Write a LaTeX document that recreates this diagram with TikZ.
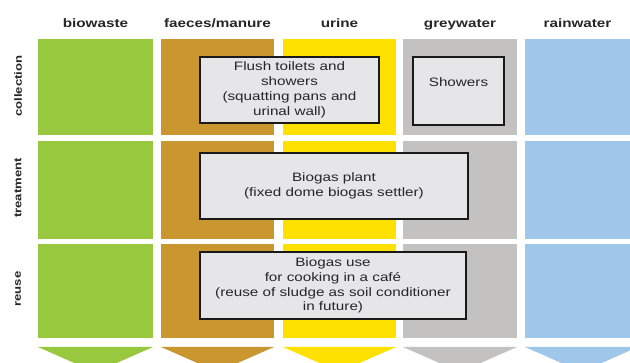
\documentclass[tikz,border=0pt]{standalone}
\usepackage{fontspec}
\setmainfont{Liberation Sans}[FakeStretch=1.25]
\definecolor{cgreen}{HTML}{97C83D}
\definecolor{cbrown}{HTML}{C9962F}
\definecolor{cyellow}{HTML}{FFE100}
\definecolor{cgrey}{HTML}{C3C2C0}
\definecolor{cblue}{HTML}{9EC7EA}
\definecolor{boxfill}{HTML}{E6E6E8}
\definecolor{txtcol}{HTML}{262626}
\tikzset{
  box/.style={draw=black!90, line width=1.4pt, fill=boxfill, align=center, inner sep=0pt,
    text=txtcol, font=\fontsize{12.2}{14.8}\selectfont},
  head/.style={anchor=base, text=txtcol, font=\fontsize{12.2}{14}\selectfont\bfseries, inner sep=0pt},
  rowlab/.style={rotate=90, text=txtcol, font=\fontsize{10.5}{12}\selectfont\bfseries, inner sep=0pt},
  boxtext/.style={text=txtcol, font=\fontsize{12.2}{14.8}\selectfont, inner sep=0pt}
}
\begin{document}
\begin{tikzpicture}[x=1pt,y=-1pt]
\useasboundingbox (0,0) rectangle (630,363);
\clip (0,0) rectangle (630,363);
\fill[white] (0,0) rectangle (630,363);
\foreach \xa/\xb/\c in {38/153/cgreen, 161/274/cbrown, 283/396/cyellow, 403/517/cgrey, 525/638/cblue} {
  \fill[\c] (\xa,39) rectangle (\xb,135);
  \fill[\c] (\xa,141) rectangle (\xb,239);
  \fill[\c] (\xa,244) rectangle (\xb,338);
  \fill[\c] (\xa,347) -- (\xb,347) -- ({(\xa+\xb)/2},{347+(\xb-\xa)*0.22}) -- cycle;
}
% headers
\node[head] (hbio) at (95.5,28) {biowaste};
\node[head] (hfae) at (217.5,28) {faeces/manure};
\node[head] (huri) at (339.5,28) {urine};
\node[head] (hgre) at (460,28) {greywater};
\node[head] (hrai) at (577.5,28) {rainwater};
% row labels
\node[rowlab] (rcol) at (18,86) {collection};
\node[rowlab] (rtre) at (18,188) {treatment};
\node[rowlab] (rreu) at (18,289) {reuse};
% boxes
\node[box, minimum width=179pt, minimum height=66pt] (flush) at (289.5,90)
  {Flush toilets and\\showers\\(squatting pans and\\urinal wall)};
\node[box, minimum width=91pt, minimum height=68pt] (showers) at (458.5,91) {};
\node[boxtext] (showerstxt) at (458.5,82) {Showers};
\node[box, minimum width=268pt, minimum height=66pt] (plant) at (334,186)
  {Biogas plant\\(fixed dome biogas settler)};
\node[box, minimum width=266pt, minimum height=67pt] (use) at (333,285.5)
  {Biogas use\\for cooking in a café\\(reuse of sludge as soil conditioner\\in future)};
\end{tikzpicture}
\end{document}
